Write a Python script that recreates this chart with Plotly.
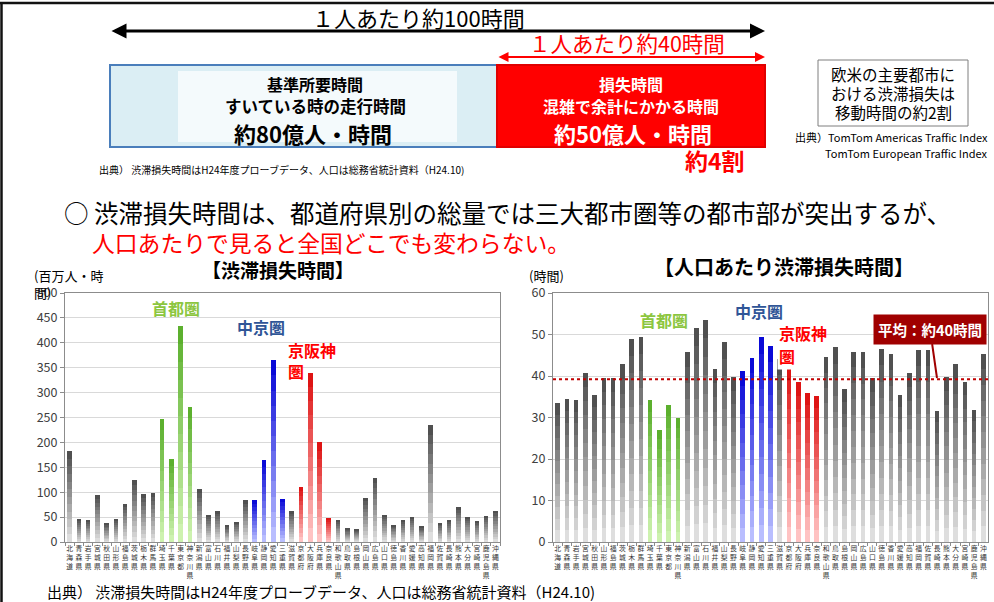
import plotly.graph_objects as go

W, H = 994, 602
FONT = "Noto Sans CJK JP"

prefectures = ["北海道", "青森県", "岩手県", "宮城県", "秋田県", "山形県", "福島県", "茨城県", "栃木県", "群馬県",
               "埼玉県", "千葉県", "東京都", "神奈川県", "新潟県", "富山県", "石川県", "福井県", "山梨県", "長野県",
               "岐阜県", "静岡県", "愛知県", "三重県", "滋賀県", "京都府", "大阪府", "兵庫県", "奈良県", "和歌山県",
               "鳥取県", "島根県", "岡山県", "広島県", "山口県", "徳島県", "香川県", "愛媛県", "高知県", "福岡県",
               "佐賀県", "長崎県", "熊本県", "大分県", "宮崎県", "鹿児島県", "沖縄県"]

# 渋滞損失時間 (百万人・時間)
total_loss = [182, 47, 45, 95, 38, 46, 77, 125, 97, 99,
              246, 166, 434, 272, 107, 55, 62, 33, 41, 84,
              84, 165, 365, 87, 62, 111, 340, 200, 49, 45,
              27, 26, 89, 129, 55, 35, 44, 50, 31, 235,
              39, 44, 71, 50, 43, 53, 63]

# 人口あたり渋滞損失時間 (時間)
per_capita_loss = [33.4, 34.5, 34.3, 40.8, 35.4, 39.5, 39.4, 42.9, 48.8, 49.5,
                   34.2, 27.0, 33.0, 30.0, 45.9, 51.6, 53.6, 41.8, 48.1, 39.8,
                   41.1, 44.3, 49.3, 47.2, 44.0, 42.7, 38.5, 35.9, 35.3, 44.5,
                   46.9, 36.9, 45.9, 45.8, 39.4, 46.4, 45.2, 35.5, 40.7, 46.3,
                   46.3, 31.6, 39.7, 42.9, 38.6, 31.8, 45.4]

average_per_capita = 39.2

shuto = ["埼玉県", "千葉県", "東京都", "神奈川県"]
chukyo = ["岐阜県", "静岡県", "愛知県", "三重県"]
keihanshin = ["京都府", "大阪府", "兵庫県", "奈良県"]

left_ticks = [0, 50, 100, 150, 200, 250, 300, 350, 400, 450, 500]
right_ticks = [0, 10, 20, 30, 40, 50, 60]

# colour ramps (top, bottom)
RAMPS = {
    "gray": ((80, 80, 80), (222, 222, 222)),
    "green": ((92, 176, 46), (205, 242, 175)),
    "blue": ((10, 10, 215), (185, 190, 255)),
    "red": ((222, 20, 20), (255, 195, 195)),
}


def group_of(name):
    if name in shuto:
        return "green"
    if name in chukyo:
        return "blue"
    if name in keihanshin:
        return "red"
    return "gray"


def mix(c1, c2, t):
    return "rgb(%d,%d,%d)" % tuple(round(a + (b - a) * t) for a, b in zip(c1, c2))


cats = ["<br>".join(list(p)) for p in prefectures]
N = 12

fig = go.Figure()
for values, xa, ya in [(total_loss, "x", "y"), (per_capita_loss, "x2", "y2")]:
    for k in range(N):
        t = k / (N - 1)  # 0 bottom -> 1 top
        colors = []
        for p in prefectures:
            top, bot = RAMPS[group_of(p)]
            colors.append(mix(bot, top, t))
        fig.add_trace(go.Bar(
            x=cats, y=[v / N for v in values], xaxis=xa, yaxis=ya,
            marker=dict(color=colors, line=dict(width=0)),
            showlegend=False, hoverinfo="skip"))


def X(px):
    return px / W


def Y(py):
    return 1 - py / H


axis_common = dict(showline=True, linecolor="#8c8c8c", linewidth=1, mirror=True, automargin=False)
xcommon = dict(tickmode="array", tickvals=cats, ticktext=cats, tickfont=dict(size=6.8, color="#333"),
               ticks="outside", ticklen=3, tickcolor="#8c8c8c", tickson="boundaries", tickangle=0)
fig.update_layout(
    width=W, height=H, autosize=False,
    margin=dict(l=0, r=0, t=0, b=0),
    paper_bgcolor="white", plot_bgcolor="white",
    barmode="stack", bargap=0.5,
    font=dict(family=FONT, color="#000"),
    xaxis=dict(domain=[X(65), X(500)], anchor="y", **xcommon, **axis_common),
    yaxis=dict(domain=[Y(542), Y(293)], anchor="x", range=[0, 500], tickvals=left_ticks,
               showgrid=True, gridcolor="#d9d9d9", ticks="outside", ticklen=4, tickcolor="#8c8c8c",
               tickfont=dict(size=12.5, color="#404040"), zeroline=False, **axis_common),
    xaxis2=dict(domain=[X(553), X(988)], anchor="y2", **xcommon, **axis_common),
    yaxis2=dict(domain=[Y(542), Y(293)], anchor="x2", range=[0, 60], tickvals=right_ticks,
                showgrid=True, gridcolor="#d9d9d9", ticks="outside", ticklen=4, tickcolor="#8c8c8c",
                tickfont=dict(size=12.5, color="#404040"), zeroline=False, **axis_common),
)

shapes = []
# outer frame lines
shapes.append(dict(type="line", xref="paper", yref="paper", x0=0, x1=1, y0=Y(3), y1=Y(3),
                   line=dict(color="#111", width=2.5)))
shapes.append(dict(type="line", xref="paper", yref="paper", x0=X(1.5), x1=X(1.5), y0=Y(3), y1=0,
                   line=dict(color="#111", width=2.5)))
# blue box
shapes.append(dict(type="rect", xref="paper", yref="paper", x0=X(110), x1=X(497), y0=Y(147), y1=Y(65),
                   fillcolor="#dbeef4", line=dict(color="#4a7ebb", width=2), layer="below"))
shapes.append(dict(type="rect", xref="paper", yref="paper", x0=X(178), x1=X(457), y0=Y(142), y1=Y(71),
                   fillcolor="#f4fafc", line=dict(width=0), layer="below"))
# red box
shapes.append(dict(type="rect", xref="paper", yref="paper", x0=X(497), x1=X(765), y0=Y(147), y1=Y(65),
                   fillcolor="#ff0000", line=dict(color="#e00000", width=2), layer="below"))
# right note box
shapes.append(dict(type="rect", xref="paper", yref="paper", x0=X(818), x1=X(968), y0=Y(126), y1=Y(60),
                   fillcolor="white", line=dict(color="#7f7f7f", width=1)))
# average dotted line
shapes.append(dict(type="line", xref="x2 domain", yref="y2", x0=0, x1=1,
                   y0=average_per_capita, y1=average_per_capita,
                   line=dict(color="#c00000", width=2, dash="dot")))
fig.update_layout(shapes=shapes)

ann = []


def txt(x, y, text, size, color="#000", bold=False, xanchor="center", align="center", **kw):
    if bold:
        text = "<b>" + text + "</b>"
    d = dict(xref="paper", yref="paper", x=X(x), y=Y(y), text=text, showarrow=False,
             font=dict(size=size, color=color, family=FONT), xanchor=xanchor, yanchor="middle", align=align)
    d.update(kw)
    ann.append(d)


# arrows
ann.append(dict(xref="paper", yref="paper", x=X(765), y=Y(31), ax=-655, ay=0, text="",
                showarrow=True, arrowside="end+start", arrowhead=2, arrowsize=1.0, arrowwidth=3,
                arrowcolor="#000"))
ann.append(dict(xref="paper", yref="paper", x=X(765), y=Y(57), ax=-268, ay=0, text="",
                showarrow=True, arrowside="end+start", arrowhead=2, arrowsize=1.0, arrowwidth=2,
                arrowcolor="#ff0000"))
txt(418, 17, "１人あたり約100時間", 22)
txt(627, 43, "１人あたり約40時間", 21.5, color="#ff0000")

txt(315, 84, "基準所要時間", 16, bold=True)
txt(315, 106, "すいている時の走行時間", 16.5, bold=True)
txt(313, 133, "約80億人・時間", 22, bold=True)
txt(631, 84, "損失時間", 16, color="white", bold=True)
txt(631, 106, "混雑で余計にかかる時間", 16, color="white", bold=True)
txt(633, 133, "約50億人・時間", 22, color="white", bold=True)
txt(715, 160, "約4割", 23, color="#ff0000", bold=True)
txt(97, 170, "出典） 渋滞損失時間はH24年度プローブデータ、人口は総務省統計資料（H24.10)", 10, xanchor="left",
    align="left")

txt(893, 74, "欧米の主要都市に", 15.5)
txt(893, 93, "おける渋滞損失は", 15.5)
txt(893, 112, "移動時間の約2割", 15.5)
txt(990, 137, "出典）TomTom Americas Traffic Index", 11, xanchor="right", align="right")
txt(990, 153, "TomTom European Traffic Index", 11, xanchor="right", align="right")

txt(62, 213, "○ 渋滞損失時間は、都道府県別の総量では三大都市圏等の都市部が突出するが、", 24.5, xanchor="left",
    align="left")
txt(90, 242, "人口あたりで見ると全国どこでも変わらない。", 22.8, color="#ff0000", xanchor="left", align="left")

txt(278, 270, "【渋滞損失時間】", 19, bold=True)
txt(784, 266, "【人口あたり渋滞損失時間】", 20, bold=True)
txt(32, 284, "(百万人・時<br>間)", 13, xanchor="left", align="left")
txt(527, 275, "(時間)", 13, xanchor="left", align="left")

# region labels
GREEN_T, BLUE_T, RED_T = "#8cc63f", "#2f5597", "#ff0000"
txt(176, 308, "首都圏", 16, color=GREEN_T, bold=True)
txt(261, 327, "中京圏", 16, color=BLUE_T, bold=True)
txt(286, 360, "京阪神<br>圏", 16, color=RED_T, bold=True, xanchor="left", align="left")
txt(664, 320, "首都圏", 16, color=GREEN_T, bold=True)
txt(759, 311, "中京圏", 16, color=BLUE_T, bold=True)
txt(777, 333, "京阪神", 16, color=RED_T, bold=True, xanchor="left", align="left")
txt(777, 356, "圏", 16, color=RED_T, bold=True, xanchor="left", align="left", bgcolor="white")

# average callout
ann.append(dict(xref="paper", yref="paper", x=X(937), y=Y(378), ax=-7, ay=-49,
                text="<b>平均：約40時間</b>", showarrow=True, arrowhead=0, arrowwidth=2,
                arrowcolor="#a00000", bgcolor="#a00000", borderpad=4,
                font=dict(size=14.5, color="white", family=FONT)))

txt(45, 591, "出典） 渋滞損失時間はH24年度プローブデータ、人口は総務省統計資料（H24.10)", 15, xanchor="left",
    align="left")

fig.update_layout(annotations=ann)
fig.write_html("out.html")
